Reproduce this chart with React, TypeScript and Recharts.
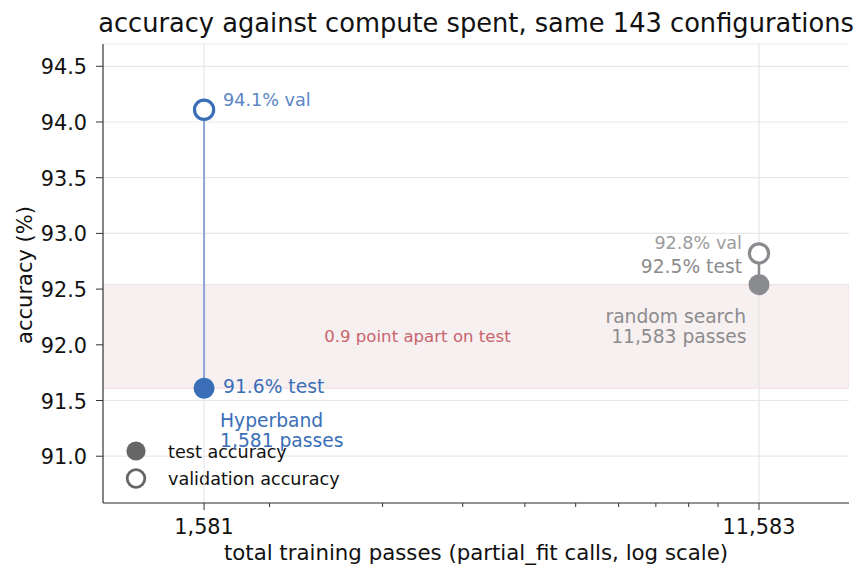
import React from 'react';
import {
  ComposedChart,
  XAxis,
  YAxis,
  CartesianGrid,
  Scatter,
  ReferenceArea,
  ReferenceLine,
  Customized,
} from 'recharts';

// values
const METHODS = ['Hyperband', 'random search'];
const PASSES = [1581, 11583];
const TEST_ACC = [91.61, 92.54];
const VAL_ACC = [94.11, 92.82];
const X_MAJOR = [1581, 11583];
const X_MINOR = [2000, 3000, 4000, 5000, 6000, 7000, 8000, 9000, 10000];
const Y_TICKS = [91.0, 91.5, 92.0, 92.5, 93.0, 93.5, 94.0, 94.5];
const GAP_LABEL_X = 3400;

const FONT = '"DejaVu Sans", sans-serif';
const BLUE = '#3a6fb8';
const BLUE_LIGHT = '#5a86c6';
const BLUE_LINE = '#8ea5d3';
const GREY = '#8a8b8f';
const GREY_TEXT = '#8c8c8c';
const BAND_TEXT = '#c9636c';

const fmt = (v: number) => v.toLocaleString('en-US');

const hbTest = [{ x: PASSES[0], y: TEST_ACC[0] }];
const hbVal = [{ x: PASSES[0], y: VAL_ACC[0] }];
const rsTest = [{ x: PASSES[1], y: TEST_ACC[1] }];
const rsVal = [{ x: PASSES[1], y: VAL_ACC[1] }];
const hbLine = [{ x: PASSES[0], y: VAL_ACC[0] }, { x: PASSES[0], y: TEST_ACC[0] }];
const rsLine = [{ x: PASSES[1], y: VAL_ACC[1] }, { x: PASSES[1], y: TEST_ACC[1] }];
const gapMid = [{ x: GAP_LABEL_X, y: (TEST_ACC[0] + TEST_ACC[1]) / 2 }];

const XTick = (props: any) => {
  const { x, y, payload } = props;
  const major = X_MAJOR.includes(payload.value);
  return (
    <g>
      <line x1={x} x2={x} y1={y} y2={y + (major ? 7 : 4)} stroke="#333" strokeWidth={1} />
      {major && (
        <text x={x} y={y + 31} textAnchor="middle" fontSize={20.8} fontFamily={FONT} fill="#111">
          {fmt(payload.value)}
        </text>
      )}
    </g>
  );
};

const YTick = (props: any) => {
  const { x, y, payload } = props;
  return (
    <g>
      <line x1={x - 7} x2={x} y1={y} y2={y} stroke="#333" strokeWidth={1} />
      <text x={x - 16} y={y + 8} textAnchor="end" fontSize={20.8} fontFamily={FONT} fill="#111">
        {payload.value.toFixed(1)}
      </text>
    </g>
  );
};

const HbTestShape = (p: any) => (
  <g fontFamily={FONT}>
    <circle cx={p.cx} cy={p.cy} r={10.5} fill={BLUE} />
    <text x={p.cx + 19} y={p.cy + 5} fontSize={18.7} fill={BLUE}>
      {TEST_ACC[0].toFixed(1)}% test
    </text>
    <text x={p.cx + 16} y={p.cy + 38.5} fontSize={18.7} fill={BLUE}>
      {METHODS[0]}
    </text>
    <text x={p.cx + 16} y={p.cy + 59} fontSize={18.7} fill={BLUE}>
      {fmt(PASSES[0])} passes
    </text>
  </g>
);

const HbValShape = (p: any) => (
  <g fontFamily={FONT}>
    <circle cx={p.cx} cy={p.cy} r={9.6} fill="#fff" stroke={BLUE} strokeWidth={3.2} />
    <text x={p.cx + 19} y={p.cy - 4} fontSize={17.6} fill={BLUE_LIGHT}>
      {VAL_ACC[0].toFixed(1)}% val
    </text>
  </g>
);

const RsTestShape = (p: any) => (
  <g fontFamily={FONT}>
    <circle cx={p.cx} cy={p.cy} r={10.5} fill={GREY} />
    <text x={p.cx - 17} y={p.cy - 12} textAnchor="end" fontSize={18.7} fill={GREY_TEXT}>
      {TEST_ACC[1].toFixed(1)}% test
    </text>
    <text x={p.cx - 13} y={p.cy + 38} textAnchor="end" fontSize={18.7} fill={GREY_TEXT}>
      {METHODS[1]}
    </text>
    <text x={p.cx - 12.5} y={p.cy + 58} textAnchor="end" fontSize={18.7} fill={GREY_TEXT}>
      {fmt(PASSES[1])} passes
    </text>
  </g>
);

const RsValShape = (p: any) => (
  <g fontFamily={FONT}>
    <circle cx={p.cx} cy={p.cy} r={9.6} fill="#fff" stroke={GREY} strokeWidth={3.2} />
    <text x={p.cx - 17} y={p.cy - 4} textAnchor="end" fontSize={17.6} fill="#9c9c9c">
      {VAL_ACC[1].toFixed(1)}% val
    </text>
  </g>
);

const GapShape = (p: any) => (
  <text x={p.cx} y={p.cy + 6} textAnchor="middle" fontSize={16.6} fontFamily={FONT} fill={BAND_TEXT}>
    {(TEST_ACC[1] - TEST_ACC[0]).toFixed(1)} point apart on test
  </text>
);

const Empty = () => <g />;

const Decor = () => (
  <g fontFamily={FONT}>
    <text x={476} y={32} textAnchor="middle" fontSize={25.7} fill="#111">
      accuracy against compute spent, same 143 configurations
    </text>
    <text x={476} y={560} textAnchor="middle" fontSize={21.3} fill="#111">
      total training passes (partial_fit calls, log scale)
    </text>
    <text
      x={32}
      y={275}
      textAnchor="middle"
      fontSize={21}
      fill="#111"
      transform="rotate(-90 32 275)"
    >
      accuracy (%)
    </text>
    <circle cx={136} cy={451} r={9.6} fill="#666" />
    <text x={168} y={458} fontSize={17.6} fill="#111">test accuracy</text>
    <circle cx={136} cy={478.5} r={8.8} fill="#fff" stroke="#666" strokeWidth={2.8} />
    <text x={168} y={484.5} fontSize={17.6} fill="#111">validation accuracy</text>
  </g>
);

export default function App() {
  return (
    <div style={{ position: 'absolute', left: 0, top: 0, background: '#fff' }}>
      <ComposedChart
        width={867}
        height={580}
        margin={{ top: 44, right: 18, bottom: 37, left: 43 }}
      >
        <ReferenceArea
          y1={TEST_ACC[0]}
          y2={TEST_ACC[1]}
          fill="#f7f0f1"
          fillOpacity={1}
          stroke="#f3dde0"
          strokeWidth={1}
          ifOverflow="hidden"
        />
        <CartesianGrid vertical={false} stroke="#e6e6e6" strokeOpacity={0.9} strokeWidth={1.2} />
        {X_MAJOR.map((v) => (
          <ReferenceLine key={v} x={v} stroke="#e6e6e6" strokeWidth={1.2} />
        ))}
        <XAxis
          type="number"
          dataKey="x"
          scale="log"
          domain={[1100, 16000]}
          allowDataOverflow
          ticks={[...X_MAJOR, ...X_MINOR]}
          interval={0}
          tick={<XTick />}
          tickLine={false}
          tickSize={0}
          tickMargin={0}
          axisLine={{ stroke: '#333', strokeWidth: 1.2 }}
          height={40}
        />
        <YAxis
          type="number"
          dataKey="y"
          domain={[90.58, 94.7]}
          allowDataOverflow
          ticks={Y_TICKS}
          interval={0}
          tick={<YTick />}
          tickLine={false}
          tickSize={0}
          tickMargin={0}
          axisLine={{ stroke: '#333', strokeWidth: 1.2 }}
          width={60}
        />
        <Scatter data={hbLine} line={{ stroke: BLUE_LINE, strokeWidth: 2 }} shape={<Empty />} isAnimationActive={false} />
        <Scatter data={rsLine} line={{ stroke: GREY, strokeWidth: 2.5 }} shape={<Empty />} isAnimationActive={false} />
        <Scatter data={gapMid} shape={<GapShape />} isAnimationActive={false} />
        <Scatter data={hbVal} shape={<HbValShape />} isAnimationActive={false} />
        <Scatter data={hbTest} shape={<HbTestShape />} isAnimationActive={false} />
        <Scatter data={rsVal} shape={<RsValShape />} isAnimationActive={false} />
        <Scatter data={rsTest} shape={<RsTestShape />} isAnimationActive={false} />
        <Customized component={Decor} />
      </ComposedChart>
    </div>
  );
}
